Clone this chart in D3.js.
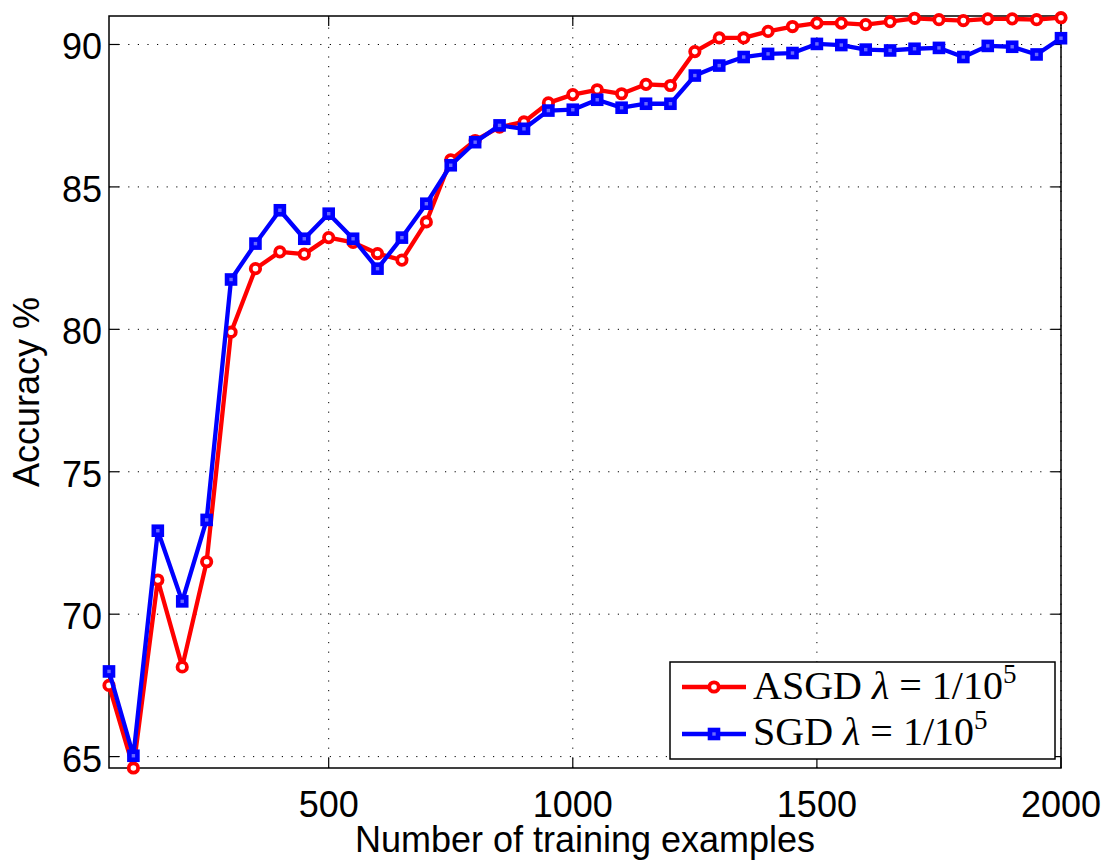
<!DOCTYPE html>
<html>
<head>
<meta charset="utf-8">
<script src="https://cdn.jsdelivr.net/npm/d3@7"></script>
<style>
  body { margin: 0; background: #fff; }
  svg { display: block; }
</style>
</head>
<body>
<svg id="chart"></svg>
<script>
var width = 1115
var height = 862

// training set sizes
var examples = [50, 100, 150, 200, 250, 300, 350, 400, 450, 500,
    550, 600, 650, 700, 750, 800, 850, 900, 950, 1000,
    1050, 1100, 1150, 1200, 1250, 1300, 1350, 1400, 1450, 1500,
    1550, 1600, 1650, 1700, 1750, 1800, 1850, 1900, 1950, 2000]

var asgd = [67.5, 64.6, 71.2, 68.15, 71.84, 79.9, 82.13, 82.72, 82.64, 83.22,
    83.05, 82.66, 82.43, 83.77, 85.95, 86.63, 87.1, 87.28, 87.95, 88.24,
    88.41, 88.27, 88.6, 88.56, 89.75, 90.23, 90.23, 90.46, 90.63, 90.75,
    90.75, 90.7, 90.8, 90.92, 90.87, 90.84, 90.9, 90.9, 90.87, 90.94]

var sgd = [67.99, 65.03, 72.93, 70.45, 73.31, 81.75, 83.01, 84.18, 83.18, 84.06,
    83.18, 82.13, 83.22, 84.41, 85.76, 86.57, 87.16, 87.04, 87.68, 87.71,
    88.06, 87.78, 87.92, 87.92, 88.91, 89.26, 89.56, 89.67, 89.7, 90.02,
    89.98, 89.82, 89.79, 89.85, 89.88, 89.56, 89.95, 89.92, 89.65, 90.22]

var xTicks = [500, 1000, 1500, 2000]
var yTicks = [65, 70, 75, 80, 85, 90]

var margin = {left: 109, right: 54, top: 16, bottom: 94}
var sans = "'Liberation Sans', Arial, Helvetica, sans-serif"
var serif = "'Liberation Serif', 'DejaVu Serif', serif"

var x = d3.scaleLinear()
    .domain([50, 2000])
    .range([margin.left, width - margin.right])

var y = d3.scaleLinear()
    .domain([64.6, 91.0])
    .range([height - margin.bottom, margin.top])

var svg = d3.select("#chart")
    .attr("width", width)
    .attr("height", height)

var x0 = x.range()[0], x1 = x.range()[1]
var y0 = y.range()[0], y1 = y.range()[1]

// dotted grid
var grid = svg.append("g")
    .attr("stroke", "#000")
    .attr("stroke-width", 1)
    .attr("stroke-dasharray", "1.2,8.4")

grid.selectAll(".gx")
    .data(xTicks)
    .enter()
    .append("line")
        .attr("x1", d => x(d))
        .attr("x2", d => x(d))
        .attr("y1", y0)
        .attr("y2", y1)

grid.selectAll(".gy")
    .data(yTicks)
    .enter()
    .append("line")
        .attr("x1", x0)
        .attr("x2", x1)
        .attr("y1", d => y(d))
        .attr("y2", d => y(d))

// inward ticks, on all four sides
var ticks = svg.append("g")
    .attr("stroke", "#000")
    .attr("stroke-width", 1.2)

xTicks.forEach(function(t) {
    ticks.append("line").attr("x1", x(t)).attr("x2", x(t)).attr("y1", y0).attr("y2", y0 - 10)
    ticks.append("line").attr("x1", x(t)).attr("x2", x(t)).attr("y1", y1).attr("y2", y1 + 10)
})
yTicks.forEach(function(t) {
    ticks.append("line").attr("x1", x0).attr("x2", x0 + 10).attr("y1", y(t)).attr("y2", y(t))
    ticks.append("line").attr("x1", x1).attr("x2", x1 - 10).attr("y1", y(t)).attr("y2", y(t))
})

// frame
svg.append("rect")
    .attr("x", x0)
    .attr("y", y1)
    .attr("width", x1 - x0)
    .attr("height", y0 - y1)
    .attr("fill", "none")
    .attr("stroke", "#000")
    .attr("stroke-width", 1.5)

// tick labels
svg.append("g")
    .selectAll("text")
    .data(xTicks)
    .enter()
    .append("text")
        .attr("x", d => x(d))
        .attr("y", 817)
        .attr("text-anchor", "middle")
        .style("font-family", sans)
        .style("font-size", "36px")
        .text(d => d)

svg.append("g")
    .selectAll("text")
    .data(yTicks)
    .enter()
    .append("text")
        .attr("x", 102)
        .attr("y", d => y(d) + 15)
        .attr("text-anchor", "end")
        .style("font-family", sans)
        .style("font-size", "36px")
        .text(d => d)

// axis titles
svg.append("text")
    .attr("x", (x0 + x1) / 2)
    .attr("y", 852)
    .attr("text-anchor", "middle")
    .style("font-family", sans)
    .style("font-size", "36px")
    .text("Number of training examples")

svg.append("text")
    .attr("transform", "translate(39," + ((y0 + y1) / 2) + ") rotate(-90)")
    .attr("text-anchor", "middle")
    .style("font-family", sans)
    .style("font-size", "36px")
    .text("Accuracy %")

// series
var series = [
    {name: "ASGD", values: asgd, color: "#ff0000", marker: "circle"},
    {name: "SGD", values: sgd, color: "#0000ff", marker: "square"}
]

var line = d3.line()
    .x(d => x(d[0]))
    .y(d => y(d[1]))

function drawMarker(g, type, color, cx, cy) {
    if (type == "circle") {
        g.append("circle")
            .attr("cx", cx)
            .attr("cy", cy)
            .attr("r", 4.7)
            .attr("fill", "#fff")
            .attr("stroke", color)
            .attr("stroke-width", 3.8)
    } else {
        g.append("rect")
            .attr("x", cx - 4)
            .attr("y", cy - 4)
            .attr("width", 8)
            .attr("height", 8)
            .attr("fill", "#6a6aff")
            .attr("stroke", color)
            .attr("stroke-width", 4.6)
    }
}

series.forEach(function(s) {
    var pts = examples.map((e, i) => [e, s.values[i]])
    var g = svg.append("g")
    g.append("path")
        .datum(pts)
        .attr("d", line)
        .attr("fill", "none")
        .attr("stroke", s.color)
        .attr("stroke-width", 4.3)
        .attr("stroke-linejoin", "round")
    pts.forEach(function(p) {
        drawMarker(g, s.marker, s.color, x(p[0]), y(p[1]))
    })
})

// legend
var legend = svg.append("g")

legend.append("rect")
    .attr("x", 670)
    .attr("y", 662)
    .attr("width", 385)
    .attr("height", 97)
    .attr("fill", "#fff")
    .attr("stroke", "#000")
    .attr("stroke-width", 1.5)

var legendRows = [
    {label: "ASGD ", s: series[0], ly: 687, ty: 699},
    {label: "SGD ", s: series[1], ly: 734, ty: 745}
]

legendRows.forEach(function(r) {
    legend.append("line")
        .attr("x1", 682)
        .attr("x2", 746)
        .attr("y1", r.ly)
        .attr("y2", r.ly)
        .attr("stroke", r.s.color)
        .attr("stroke-width", 4.3)
    drawMarker(legend, r.s.marker, r.s.color, 714, r.ly)

    var t = legend.append("text")
        .attr("x", 753)
        .attr("y", r.ty)
        .style("font-family", serif)
        .style("font-size", "40px")
    t.append("tspan").text(r.label)
    t.append("tspan").style("font-style", "italic").text("λ")
    t.append("tspan").text(" = 1/10")
    t.append("tspan")
        .attr("dy", -16)
        .style("font-size", "27px")
        .text("5")
})
</script>
</body>
</html>
